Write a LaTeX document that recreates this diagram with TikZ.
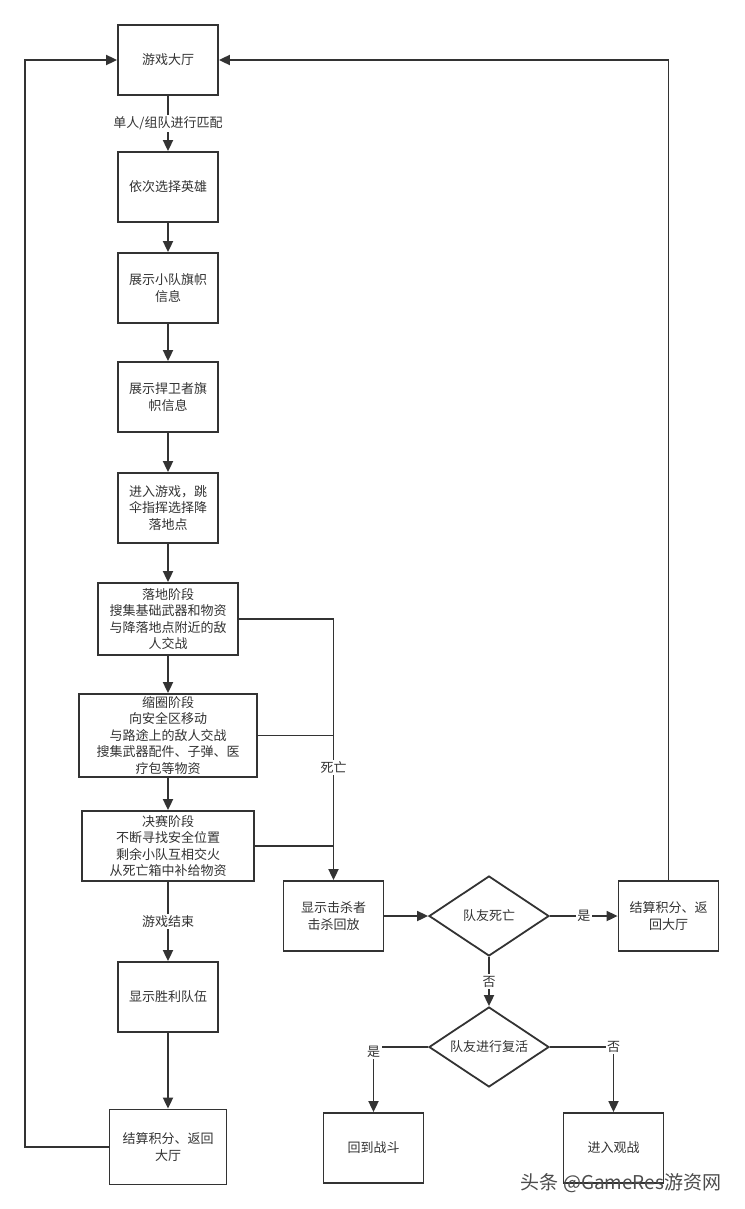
\documentclass[tikz,border=0pt]{standalone}
\usepackage{fontspec}
\newfontfamily\cjk{Noto Sans CJK SC}
\usetikzlibrary{arrows.meta,shapes.geometric}
\definecolor{linegray}{HTML}{333333}
\tikzset{
  box/.style={draw=linegray, line width=1.8pt, rectangle, align=center, inner sep=2pt,
    text=linegray, font=\cjk\fontsize{13}{16.5}\selectfont,
    minimum width=100pt, minimum height=70pt},
  decide/.style={draw=linegray, line width=1.8pt, diamond, aspect=1.5, inner sep=0pt,
    text=linegray, font=\cjk\fontsize{13}{16.5}\selectfont,
    minimum width=120pt, minimum height=80pt},
  arr/.style={draw=linegray, line width=1.8pt, -{Triangle[length=11pt,width=10pt]}},
  link/.style={draw=linegray, line width=1.8pt},
  lbl/.style={fill=white, inner sep=1.5pt, text=linegray, font=\cjk\fontsize{13}{16.5}\selectfont}
}
\begin{document}
\begin{tikzpicture}[x=1pt,y=-1pt]
    \useasboundingbox (0,0) rectangle (744,1209);
    \fill[white] (0,0) rectangle (744,1209);

    \node[box] (lobby) at (168,60) {游戏大厅};
    \node[box] (hero) at (168,187) {依次选择英雄};
    \node[box] (squadflag) at (168,288) {展示小队旗帜\\信息};
    \node[box] (guardflag) at (168,397) {展示捍卫者旗\\帜信息};
    \node[box] (jump) at (168,508) {进入游戏，跳\\伞指挥选择降\\落地点};
    \node[box, minimum width=140pt, minimum height=72pt] (landing) at (168,619)
        {落地阶段\\搜集基础武器和物资\\与降落地点附近的敌\\人交战};
    \node[box, minimum width=178pt, minimum height=83pt] (shrink) at (168,735.5)
        {缩圈阶段\\向安全区移动\\与路途上的敌人交战\\搜集武器配件、子弹、医\\疗包等物资};
    \node[box, minimum width=172pt, minimum height=70pt] (final) at (168,846)
        {决赛阶段\\不断寻找安全位置\\剩余小队互相交火\\从死亡箱中补给物资};
    \node[box] (win) at (168,997) {显示胜利队伍};
    \node[box, minimum width=117pt, minimum height=75pt] (settleL) at (168,1147) {结算积分、返回\\大厅};

    \node[box] (killcam) at (333.5,916) {显示击杀者\\击杀回放};
    \node[decide] (dead) at (489,916) {队友死亡};
    \node[box] (settleR) at (668.5,916) {结算积分、返\\回大厅};
    \node[decide] (revive) at (489,1047) {队友进行复活};
    \node[box] (fight) at (373.5,1148) {回到战斗};
    \node[box] (spectate) at (613.5,1148) {进入观战};

    \coordinate (loopL) at (25,1147);

    \draw[arr] (lobby) -- node[lbl] {单人/组队进行匹配} (hero);
    \draw[arr] (hero) -- (squadflag);
    \draw[arr] (squadflag) -- (guardflag);
    \draw[arr] (guardflag) -- (jump);
    \draw[arr] (jump) -- (landing);
    \draw[arr] (landing) -- (shrink);
    \draw[arr] (shrink) -- (final);
    \draw[arr] (final) -- node[lbl] {游戏结束} (win);
    \draw[arr] (win) -- (settleL);
    \draw[arr] (settleL.west) -- (loopL) |- (lobby.west);

    \draw[arr] (landing.east) -- (landing.east -| killcam.north)
        -- node[lbl, pos=0.57] {死亡} (killcam.north);
    \draw[link] (shrink.east) -- (shrink.east -| killcam.north);
    \draw[link] (final.east) -- (final.east -| killcam.north);

    \draw[arr] (killcam) -- (dead);
    \draw[arr] (dead) -- node[lbl] {是} (settleR);
    \draw[arr] (settleR.north) |- (lobby.east);
    \draw[arr] (dead) -- node[lbl] {否} (revive);
    \draw[arr] (revive.west) -| node[lbl, pos=0.54] {是} (fight.north);
    \draw[arr] (revive.east) -| node[lbl, pos=0.5] {否} (spectate.north);

    \node[text=black!70, font=\cjk\fontsize{19}{22}\selectfont] (mark) at (621,1183) {头条 @GameRes游资网};
\end{tikzpicture}
\end{document}
